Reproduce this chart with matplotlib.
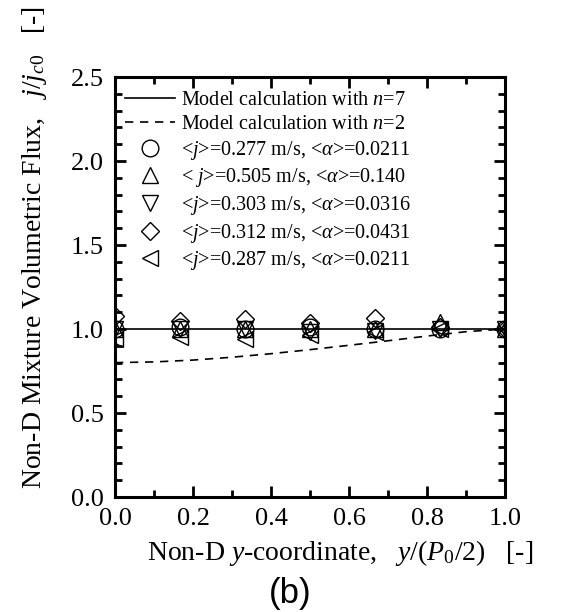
import numpy as np
import matplotlib
matplotlib.use('Agg')
import matplotlib.pyplot as plt
from matplotlib.ticker import MultipleLocator

plt.rcParams['font.family'] = ['Liberation Serif', 'DejaVu Serif']
plt.rcParams['mathtext.fontset'] = 'custom'
plt.rcParams['mathtext.rm'] = 'Liberation Serif'
plt.rcParams['mathtext.it'] = 'Liberation Serif:italic'

# model curves
model_x = [0.0, 0.1, 0.2, 0.3, 0.4, 0.5, 0.6, 0.7, 0.8, 0.9, 1.0]
model_n7 = [1.0, 1.0, 1.0, 1.0, 1.0, 1.0, 1.0, 1.0, 1.0, 1.0, 1.0]
model_n2 = [0.800, 0.804, 0.815, 0.832, 0.853, 0.877, 0.903, 0.930, 0.958, 0.984, 1.0]

# measured points
meas_x = [0.0, 1/6, 1/3, 1/2, 2/3, 5/6, 1.0]
flux_circle = [1.00, 1.01, 1.00, 1.01, 1.00, 1.00, 1.00]
flux_up = [1.00, 1.00, 1.00, 1.00, 1.00, 1.04, 1.00]
flux_down = [1.00, 1.00, 1.00, 0.98, 0.99, 1.00, 1.00]
flux_diamond = [1.08, 1.05, 1.06, 1.035, 1.065, 1.01, 1.00]
flux_left = [0.94, 0.95, 0.94, 0.965, 0.98, 1.00, 1.00]

series = [
    (flux_circle, 'o', r'<$j$>=0.277 m/s, <$\alpha$>=0.0211'),
    (flux_up, '^', r'< $j$>=0.505 m/s, <$\alpha$>=0.140'),
    (flux_down, 'v', r'<$j$>=0.303 m/s, <$\alpha$>=0.0316'),
    (flux_diamond, 'D', r'<$j$>=0.312 m/s, <$\alpha$>=0.0431'),
    (flux_left, '<', r'<$j$>=0.287 m/s, <$\alpha$>=0.0211'),
]

fig = plt.figure(figsize=(5.64, 6.12), dpi=100)
ax = fig.add_axes([115/564, 1 - 497/612, 390/564, 420/612])

ax.plot(model_x, model_n7, 'k-', lw=1.2, label=r'Model calculation with $n$=7')
ax.plot(model_x, model_n2, 'k--', lw=1.2, dashes=(5, 4), label=r'Model calculation with $n$=2')
for vals, mk, lab in series:
    ms = 9 if mk == 'D' else 12
    ax.plot(meas_x, vals, ls='none', marker=mk, ms=ms, mfc='none', mec='black', mew=1.0, label=lab)

ax.set_xlim(0, 1.0)
ax.set_ylim(0, 2.5)
ax.xaxis.set_major_locator(MultipleLocator(0.2))
ax.xaxis.set_minor_locator(MultipleLocator(0.1))
ax.yaxis.set_major_locator(MultipleLocator(0.5))
ax.yaxis.set_minor_locator(MultipleLocator(0.1))
ax.set_xticklabels([f'{v:.1f}' for v in ax.get_xticks()])
ax.set_yticklabels([f'{v:.1f}' for v in ax.get_yticks()])
ax.tick_params(which='both', direction='in', top=True, right=True, width=2, labelsize=19)
ax.tick_params(which='major', length=8, pad=8)
ax.tick_params(which='minor', length=5)
for sp in ax.spines.values():
    sp.set_linewidth(2.2)

leg = ax.legend(loc='upper left', bbox_to_anchor=(0.026, 0.966), frameon=False, fontsize=14.5,
                handlelength=2.5, handletextpad=0.25, labelspacing=0.23, borderpad=0,
                borderaxespad=0, numpoints=1)

fig.text(340/564, 1 - 553/612, r'Non-D $y$-coordinate,   $y$/($P_0$/2)   [-]',
         ha='center', va='center', fontsize=20)
fig.text(35/564, 1 - 248/612, r'Non-D Mixture Volumetric Flux,   $j/j_{c0}$   [-]',
         ha='center', va='center', rotation=90, fontsize=20)
fig.text(290/564, 1 - 594/612, '(b)', ha='center', va='center', fontsize=25,
         family='Liberation Sans')

fig.savefig('out.png', dpi=100)
